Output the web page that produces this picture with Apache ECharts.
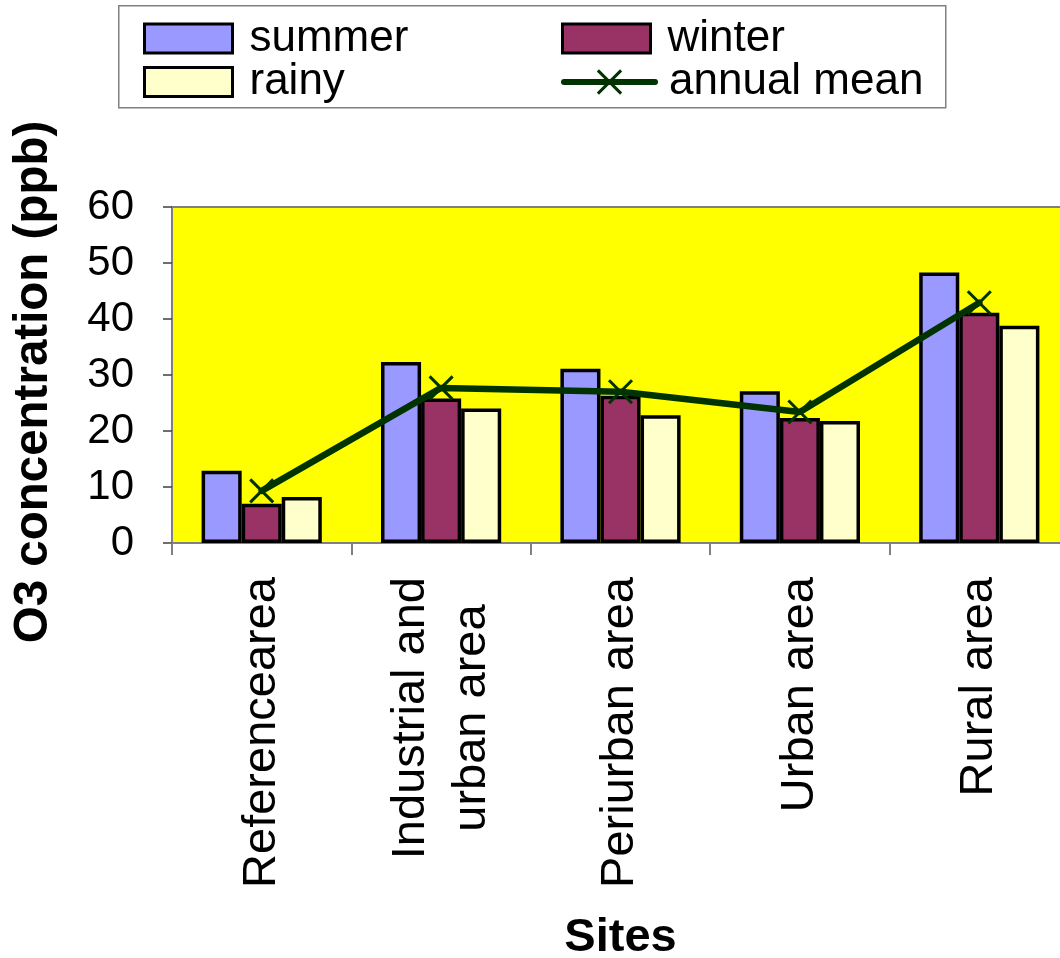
<!DOCTYPE html>
<html>
<head>
<meta charset="utf-8">
<title>O3 concentration by site</title>
<script src="https://cdn.jsdelivr.net/npm/echarts@6/dist/echarts.min.js"></script>
<style>
  html, body { margin: 0; padding: 0; background: #ffffff; }
  #chart { width: 1060px; height: 958px; }
</style>
</head>
<body>
<div id="chart"></div>
<script>
// Sites along the x axis
const categories = ['Referencearea', 'Industrial and\nurban area', 'Periurban area', 'Urban area', 'Rural area'];
// Seasonal O3 concentrations (ppb)
const summer = [12.9, 32.3, 31.1, 27.1, 48.3];
const winter = [7.0, 25.8, 26.3, 22.3, 41.1];
const rainy = [8.2, 24.0, 22.8, 21.8, 38.8];
const annualMean = [9.3, 27.7, 27.0, 23.4, 42.9];
// Y axis range and step
const yMin = 0;
const yMax = 60;
const yStep = 10;

const FONT = '"Liberation Sans", Arial, Helvetica, sans-serif';
const MEAN_COLOR = '#003300';

const chart = echarts.init(document.getElementById('chart'), null, { renderer: 'canvas' });

function legendItem(name, left, top, extra) {
  return Object.assign({
    data: [name],
    left: left,
    top: top,
    padding: 0,
    itemWidth: 88,
    itemHeight: 29,
    selectedMode: false,
    icon: 'rect',
    itemStyle: { borderColor: '#000000', borderWidth: 3 },
    textStyle: {
      fontFamily: FONT,
      fontSize: 44,
      lineHeight: 44,
      color: '#000000',
      padding: [0, 0, 0, 12]
    }
  }, extra || {});
}

const barBase = {
  type: 'bar',
  barGap: '0%',
  barCategoryGap: '33%',
  emphasis: { disabled: true }
};

const option = {
  animation: false,
  backgroundColor: '#ffffff',
  graphic: [{
    type: 'rect',
    left: 118,
    top: 5,
    shape: { width: 827, height: 102 },
    style: { fill: '#ffffff', stroke: '#808080', lineWidth: 1.5 },
    z: -1
  }],
  legend: [
    legendItem('summer', 143, 16.5),
    legendItem('winter', 561, 16.5),
    legendItem('rainy', 143, 60),
    legendItem('annual mean', 561, 60, {
      itemWidth: 91,
      icon: null,
      itemStyle: { color: MEAN_COLOR, borderColor: MEAN_COLOR, borderWidth: 3 },
      lineStyle: { color: MEAN_COLOR, width: 6, cap: 'round' },
      textStyle: {
        fontFamily: FONT,
        fontSize: 44,
        lineHeight: 44,
        color: '#000000',
        padding: [0, 0, 0, 9]
      }
    })
  ],
  grid: {
    left: 172,
    top: 207,
    width: 897,
    height: 336,
    outerBoundsMode: 'none',
    containLabel: false,
    show: true,
    backgroundColor: '#FFFF00',
    borderColor: '#808080',
    borderWidth: 2
  },
  xAxis: {
    type: 'category',
    data: categories,
    boundaryGap: true,
    name: 'Sites',
    nameLocation: 'middle',
    nameGap: 372,
    nameTextStyle: { fontFamily: FONT, fontSize: 47, fontWeight: 'bold', color: '#000000' },
    axisLine: { show: true, lineStyle: { color: '#808080', width: 2 } },
    axisTick: { show: true, alignWithLabel: false, length: 12, lineStyle: { color: '#808080', width: 2 } },
    axisLabel: {
      interval: 0,
      rotate: 90,
      margin: 34,
      color: '#000000',
      formatter: function (value) {
        return value.split('\n').map(function (line) { return '{c|' + line + '}'; }).join('\n');
      },
      rich: {
        c: { fontFamily: FONT, fontSize: 47, lineHeight: 61, align: 'center', color: '#000000' }
      }
    },
    splitLine: { show: false }
  },
  yAxis: {
    type: 'value',
    min: yMin,
    max: yMax,
    interval: yStep,
    name: 'O3 concentration (ppb)',
    nameLocation: 'middle',
    nameGap: 114,
    nameTextStyle: {
      fontFamily: FONT,
      fontSize: 47.5,
      fontWeight: 'bold',
      color: '#000000',
      padding: [0, 14, 0, 0]
    },
    axisLine: { show: true, lineStyle: { color: '#808080', width: 2 } },
    axisTick: { show: true, inside: false, length: 9, lineStyle: { color: '#404040', width: 1.5 } },
    axisLabel: { fontFamily: FONT, fontSize: 42, color: '#000000', margin: 38 },
    splitLine: { show: false }
  },
  series: [
    Object.assign({}, barBase, {
      name: 'summer',
      data: summer,
      itemStyle: { color: '#9999FF', borderColor: '#000000', borderWidth: 3.5 }
    }),
    Object.assign({}, barBase, {
      name: 'winter',
      data: winter,
      itemStyle: { color: '#993366', borderColor: '#000000', borderWidth: 3.5 }
    }),
    Object.assign({}, barBase, {
      name: 'rainy',
      data: rainy,
      itemStyle: { color: '#FFFFCC', borderColor: '#000000', borderWidth: 3.5 }
    }),
    {
      name: 'annual mean',
      type: 'line',
      data: annualMean,
      symbol: 'path://M0,0L1,1M1,0L0,1',
      symbolSize: 23,
      showAllSymbol: true,
      lineStyle: { color: MEAN_COLOR, width: 6.5, cap: 'round' },
      itemStyle: { color: MEAN_COLOR, borderColor: MEAN_COLOR, borderWidth: 3 },
      emphasis: { disabled: true },
      z: 5
    }
  ]
};

chart.setOption(option);
</script>
</body>
</html>
